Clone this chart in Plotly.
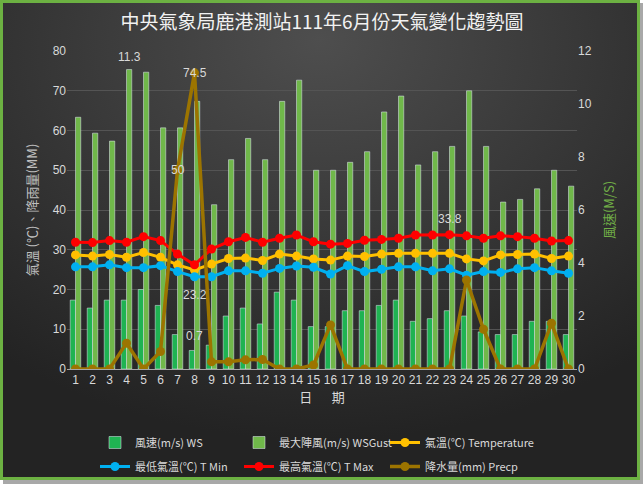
import base64
import plotly.graph_objects as go

days = [str(d) for d in range(1, 31)]
ws = [2.6, 2.3, 2.6, 2.6, 3.0, 2.4, 1.3, 0.7, 0.9, 2.0, 2.3, 1.7, 2.9, 2.6, 1.6,
      1.6, 2.2, 2.2, 2.4, 2.6, 1.8, 1.9, 2.2, 2.0, 1.4, 1.3, 1.3, 1.8, 1.8, 1.3]
gust = [9.5, 8.9, 8.6, 11.3, 11.2, 9.1, 9.1, 10.1, 6.2, 7.9, 8.7, 7.9, 10.1, 10.9, 7.5,
        7.5, 7.8, 8.2, 9.7, 10.3, 7.7, 8.2, 8.4, 10.5, 8.4, 6.3, 6.4, 6.8, 7.5, 6.9]
temp = [28.7, 28.4, 28.8, 28.1, 29.3, 28.1, 26.2, 24.9, 26.4, 27.8, 27.9, 27.3, 28.9, 28.4, 27.7,
        27.4, 28.4, 28.3, 28.9, 29.1, 29.1, 29.1, 29.1, 27.7, 27.2, 28.7, 28.8, 28.9, 27.8, 28.4]
tmin = [25.7, 25.7, 26.2, 25.5, 25.5, 26.0, 24.5, 23.2, 23.2, 24.7, 24.7, 24.1, 25.3, 25.9, 25.6,
        23.9, 26.0, 24.5, 25.1, 25.7, 25.7, 24.7, 25.2, 23.6, 24.5, 24.3, 25.2, 25.5, 24.7, 24.1]
tmax = [31.9, 31.8, 32.3, 31.9, 33.3, 32.3, 28.9, 26.2, 30.2, 32.0, 33.1, 31.9, 32.9, 33.7, 32.0,
        31.4, 31.6, 32.4, 32.6, 32.9, 33.7, 33.7, 33.8, 33.5, 32.9, 33.5, 33.3, 32.9, 32.2, 32.3]
precip = [0, 0, 0, 6.5, 0, 4.4, 50, 74.5, 1.8, 1.8, 2.3, 2.4, 0, 0, 1.0,
          11.1, 0, 0, 0, 0, 0, 0, 0, 22.4, 10.0, 0, 0, 0, 11.5, 0]

title_text = "中央氣象局鹿港測站111年6月份天氣變化趨勢圖"
left_title = "氣溫 (℃)、降雨量(MM)"
right_title = "風速(M/S)"
x_title = "日\u3000\u2002期"

FONT = "Liberation Sans, Noto Sans CJK TC, sans-serif"
CJK = "Noto Sans CJK TC"
TXT = "#d9d9d9"

# layout geometry (pixels)
W, H = 643, 484
L, R, T, B = 67, 66, 51, 115
PW, PH = W - L - R, H - T - B


def px_x(p):
    return (p - L) / PW


def px_y(p):
    return (H - B - p) / PH


svg = f'''<svg xmlns="http://www.w3.org/2000/svg" width="{W}" height="{H}" viewBox="0 0 {W} {H}">
<defs><radialGradient id="g" cx="50%" cy="12%" r="80%" fx="50%" fy="8%">
<stop offset="0" stop-color="#4e4e4e"/><stop offset="0.55" stop-color="#363636"/><stop offset="1" stop-color="#232323"/></radialGradient></defs>
<rect x="3" y="3" width="640" height="481" fill="#a8a8a8"/>
<rect x="1.5" y="1.5" width="637" height="477" fill="url(#g)" stroke="#6cb142" stroke-width="3"/>
</svg>'''
bg_uri = "data:image/svg+xml;base64," + base64.b64encode(svg.encode()).decode()

fig = go.Figure()
fig.add_trace(go.Bar(x=days, y=ws, name="風速(m/s) WS", marker_color="#1fb352",
                     yaxis="y", legend="legend", legendgroup="a"))
fig.add_trace(go.Bar(x=days, y=gust, name="最大陣風(m/s) WSGust", marker_color="#70b84a",
                     yaxis="y", legend="legend2", legendgroup="b"))
fig.add_trace(go.Scatter(x=days, y=temp, name="氣溫(℃) Temperature", yaxis="y2",
                         mode="lines+markers", line=dict(color="#ffc000", width=3),
                         marker=dict(size=9, color="#ffc000"), legend="legend3", legendgroup="c"))
fig.add_trace(go.Scatter(x=days, y=tmin, name="最低氣溫(℃) T Min", yaxis="y2",
                         mode="lines+markers", line=dict(color="#00b0f0", width=3),
                         marker=dict(size=9, color="#00b0f0"), legend="legend", legendgroup="d"))
fig.add_trace(go.Scatter(x=days, y=tmax, name="最高氣溫(℃) T Max", yaxis="y2",
                         mode="lines+markers", line=dict(color="#ff0000", width=3),
                         marker=dict(size=9, color="#ff0000"), legend="legend2", legendgroup="e"))
fig.add_trace(go.Scatter(x=days, y=precip, name="降水量(mm) Precp", yaxis="y2",
                         mode="lines+markers", line=dict(color="#9c7400", width=3.5),
                         marker=dict(size=9, color="#9c7400"), legend="legend3", legendgroup="f"))

# data labels: (series, day index, axis, x shift, y shift)
labels = [
    (gust, 3, "y", 3, 13),
    (precip, 7, "y2", 0, 0),
    (precip, 6, "y2", 0, 0),
    (tmin, 7, "y2", 0, -18),
    (ws, 7, "y", 0, 14),
    (tmax, 22, "y2", 0, 16),
]
anns = []
for series, i, ax, xs, ys in labels:
    anns.append(dict(x=i, y=series[i], xref="x", yref=ax, text=str(series[i]),
                     showarrow=False, xshift=xs, yshift=ys,
                     font=dict(family=FONT, size=12, color=TXT)))

leg_common = dict(orientation="v", xanchor="left", y=px_y(428), yanchor="top",
                  font=dict(family=CJK, size=11, color=TXT), bgcolor="rgba(0,0,0,0)",
                  itemwidth=30, tracegroupgap=5)

fig.update_layout(
    width=W, height=H,
    margin=dict(l=L, r=R, t=T, b=B, autoexpand=False),
    paper_bgcolor="#ffffff", plot_bgcolor="rgba(0,0,0,0)",
    images=[dict(source=bg_uri, xref="paper", yref="paper", x=-L / PW, y=1 + T / PH,
                 sizex=W / PW, sizey=H / PH, xanchor="left", yanchor="top",
                 sizing="stretch", layer="below")],
    title=dict(text=title_text, x=0.5, xanchor="center", xref="paper",
               y=1 - 22 / H, yanchor="middle",
               font=dict(family=CJK, size=19, color="#f2f2f2")),
    barmode="group", bargap=0.38, bargroupgap=0.0,
    xaxis=dict(type="category", range=[-0.5, 29.5], showgrid=False, showline=True,
               linecolor="#a6a6a6", linewidth=1, ticks="",
               tickfont=dict(family=FONT, size=12, color=TXT),
               title=dict(text=x_title, standoff=6,
                          font=dict(family=CJK, size=13, color=TXT))),
    yaxis=dict(side="right", range=[0, 12], dtick=2, showgrid=False, zeroline=False,
               tickfont=dict(family=FONT, size=12, color=TXT),
               title=dict(text=right_title, standoff=14,
                          font=dict(family=CJK, size=13, color="#70ad47"))),
    yaxis2=dict(overlaying="y", side="left", range=[0, 80], dtick=10, showgrid=True,
                gridcolor="#545454", gridwidth=1, zeroline=False,
                tickfont=dict(family=FONT, size=12, color=TXT),
                title=dict(text=left_title, standoff=12,
                           font=dict(family=CJK, size=13, color="#bfbfbf"))),
    legend=dict(x=px_x(95), **leg_common),
    legend2=dict(x=px_x(239), **leg_common),
    legend3=dict(x=px_x(385), **leg_common),
    annotations=anns,
    showlegend=True,
)

fig.write_html("out.html", config={"displayModeBar": False},
               post_script="document.body.style.margin='0px';")
